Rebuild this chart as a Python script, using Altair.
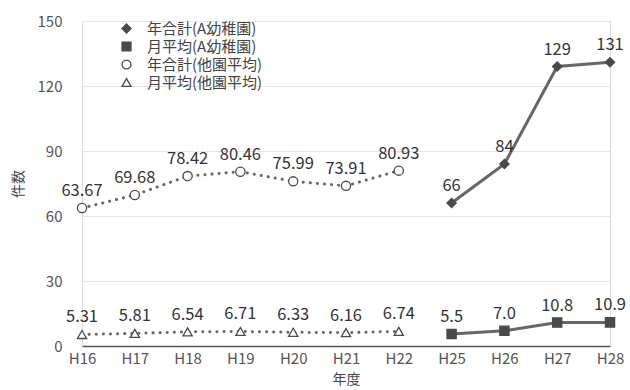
import altair as alt
import pandas as pd

# Fiscal years on the horizontal axis
years = ["H16", "H17", "H18", "H19", "H20", "H21", "H22", "H25", "H26", "H27", "H28"]

# Other kindergartens (average), H16-H22
other_years = ["H16", "H17", "H18", "H19", "H20", "H21", "H22"]
other_annual = [63.67, 69.68, 78.42, 80.46, 75.99, 73.91, 80.93]
other_monthly = [5.31, 5.81, 6.54, 6.71, 6.33, 6.16, 6.74]

# Kindergarten A, H25-H28
a_years = ["H25", "H26", "H27", "H28"]
a_annual = [66, 84, 129, 131]
a_monthly = [5.5, 7.0, 10.8, 10.9]

series_names = ["年合計(A幼稚園)", "月平均(A幼稚園)", "年合計(他園平均)", "月平均(他園平均)"]

rows = []
for y, v in zip(a_years, a_annual):
    rows.append({"year": y, "value": v, "series": series_names[0], "label": f"{v:d}", "dash": "solid"})
for y, v in zip(a_years, a_monthly):
    rows.append({"year": y, "value": v, "series": series_names[1], "label": f"{v:.1f}", "dash": "solid"})
for y, v in zip(other_years, other_annual):
    rows.append({"year": y, "value": v, "series": series_names[2], "label": f"{v:.2f}", "dash": "dot"})
for y, v in zip(other_years, other_monthly):
    rows.append({"year": y, "value": v, "series": series_names[3], "label": f"{v:.2f}", "dash": "dot"})
df = pd.DataFrame(rows)

FONT = "Noto Sans CJK JP"
INK = "#4a4a4a"

x_enc = alt.X(
    "year:N",
    sort=years,
    scale=alt.Scale(type="point", padding=0),
    axis=alt.Axis(
        title="年度", labelAngle=0, ticks=False, grid=False,
        domainColor="#555555", domainWidth=1.6,
        labelFontSize=15, labelColor="#555555", labelPadding=5,
        titleFontSize=14, titleColor="#444444", titlePadding=6, titleFontWeight="normal",
    ),
)
y_enc = alt.Y(
    "value:Q",
    scale=alt.Scale(domain=[0, 150], nice=False),
    axis=alt.Axis(
        title="件数", values=[0, 30, 60, 90, 120, 150], domain=False, ticks=False,
        gridColor="#e6e6e6", gridWidth=1,
        labelFontSize=15, labelColor="#555555", labelPadding=20,
        titleFontSize=14, titleColor="#444444", titlePadding=12, titleFontWeight="normal",
    ),
)

legend_cfg = dict(
    title=None, orient="none", legendX=37, legendY=0,
    labelFont=FONT, labelFontSize=15, labelColor="#444444",
    symbolSize=80, symbolStrokeWidth=1.3,
    rowPadding=2, labelOffset=13, padding=0,
)

base = alt.Chart(df).encode(x=x_enc, y=y_enc)

solid_lines = base.transform_filter(alt.datum.dash == "solid").mark_line(
    color="#666666", strokeWidth=3
).encode(detail="series:N")

dotted_lines = base.transform_filter(alt.datum.dash == "dot").mark_line(
    color="#666666", strokeWidth=3, strokeDash=[0.1, 7], strokeCap="round"
).encode(detail="series:N")

points = base.mark_point(size=85, strokeWidth=1.3, opacity=1).encode(
    shape=alt.Shape(
        "series:N",
        scale=alt.Scale(domain=series_names, range=["diamond", "square", "circle", "triangle-up"]),
        legend=alt.Legend(**legend_cfg),
    ),
    fill=alt.Fill(
        "series:N",
        scale=alt.Scale(domain=series_names, range=[INK, INK, "#ffffff", "#ffffff"]),
        legend=alt.Legend(**legend_cfg),
    ),
    stroke=alt.Stroke(
        "series:N",
        scale=alt.Scale(domain=series_names, range=[INK, INK, INK, INK]),
        legend=alt.Legend(**legend_cfg),
    ),
)

labels = base.mark_text(
    dy=-17, fontSize=16.5, font=FONT, color="#333333"
).encode(text="label:N")

chart = (
    alt.layer(solid_lines, dotted_lines, points, labels)
    .properties(
        width=528, height=325,
        autosize=alt.AutoSizeParams(type="none"),
        padding={"left": 82, "top": 21, "right": 20, "bottom": 44},
    )
    .configure_view(stroke=None)
    .configure(font=FONT)
)

chart.save("out.html", embed_options={"renderer": "svg", "actions": False})
